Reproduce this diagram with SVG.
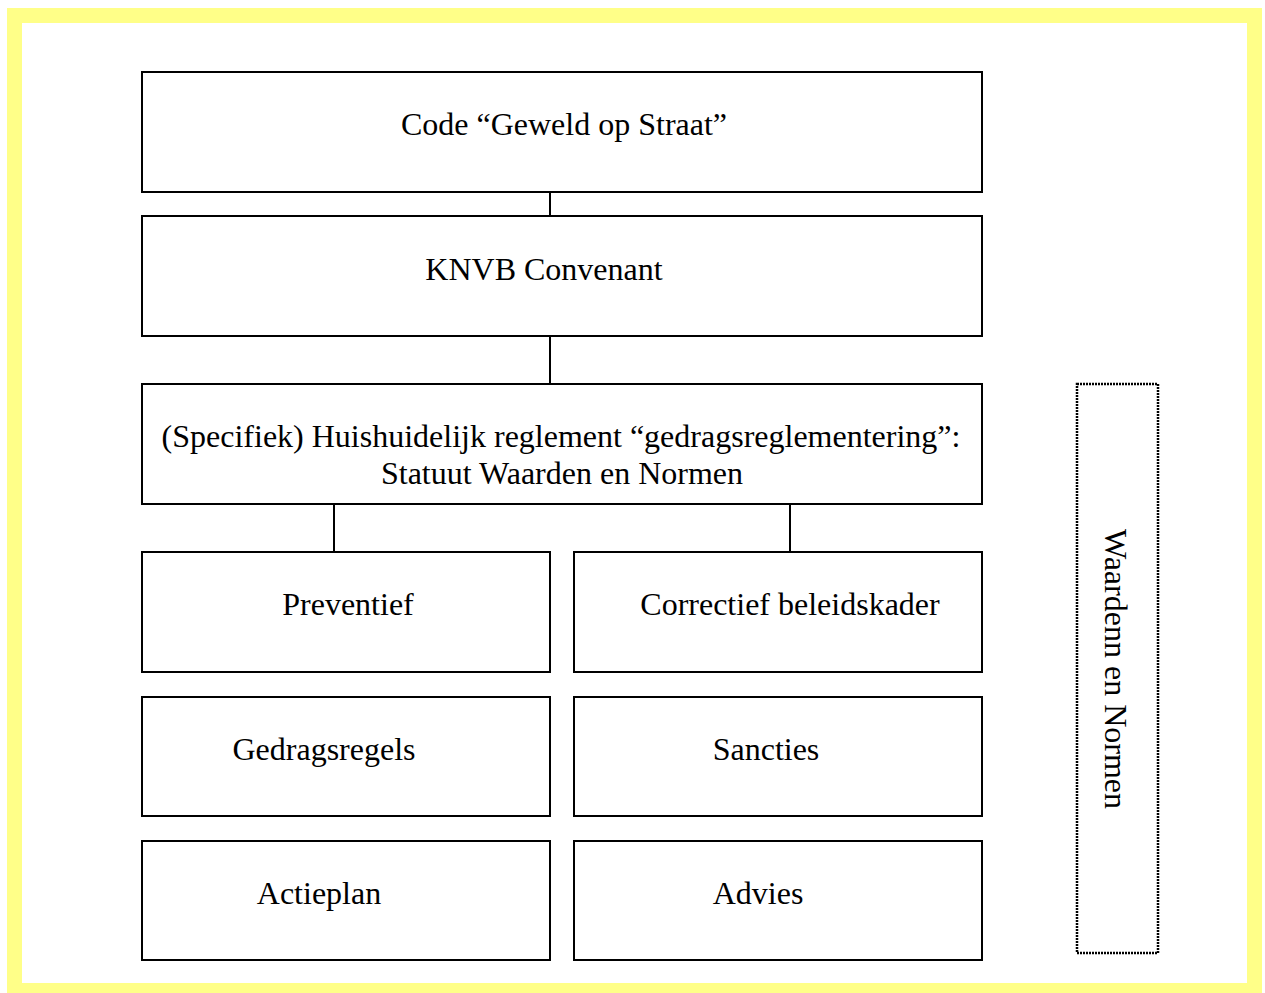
<svg xmlns="http://www.w3.org/2000/svg" width="1265" height="993" viewBox="0 0 1265 993">
<style>
.box{fill:#fff;stroke:#000;stroke-width:2}
.t{font-family:"Liberation Serif","Times New Roman",serif;font-size:32px;fill:#000;text-anchor:middle}
.c{stroke:#000;stroke-width:2;fill:none}
</style>
<rect x="0" y="0" width="1265" height="993" fill="#fff"/>
<rect x="14.5" y="15.5" width="1240" height="975" fill="none" stroke="#ffff88" stroke-width="15"/>
<g id="connectors">
<line class="c" x1="550" y1="192" x2="550" y2="216"/>
<line class="c" x1="550" y1="336" x2="550" y2="384"/>
<line class="c" x1="334" y1="504" x2="334" y2="552"/>
<line class="c" x1="790" y1="504" x2="790" y2="552"/>
</g>
<g id="code"><rect class="box" x="142" y="72" width="840" height="120"/><text class="t" x="564" y="135">Code “Geweld op Straat”</text></g>
<g id="knvb"><rect class="box" x="142" y="216" width="840" height="120"/><text class="t" x="544" y="280">KNVB Convenant</text></g>
<g id="reglement"><rect class="box" x="142" y="384" width="840" height="120"/><text class="t" x="561" y="447">(Specifiek) Huishuidelijk reglement “gedragsreglementering”:</text><text class="t" x="562" y="484">Statuut Waarden en Normen</text></g>
<g id="preventief"><rect class="box" x="142" y="552" width="408" height="120"/><text class="t" x="348" y="615">Preventief</text></g>
<g id="correctief"><rect class="box" x="574" y="552" width="408" height="120"/><text class="t" x="790" y="615">Correctief beleidskader</text></g>
<g id="gedragsregels"><rect class="box" x="142" y="697" width="408" height="119"/><text class="t" x="324" y="760">Gedragsregels</text></g>
<g id="sancties"><rect class="box" x="574" y="697" width="408" height="119"/><text class="t" x="766" y="760">Sancties</text></g>
<g id="actieplan"><rect class="box" x="142" y="841" width="408" height="119"/><text class="t" x="319" y="904">Actieplan</text></g>
<g id="advies"><rect class="box" x="574" y="841" width="408" height="119"/><text class="t" x="758" y="904">Advies</text></g>
<g id="waarden"><rect x="1077" y="384" width="81" height="569" fill="#fff" stroke="#000" stroke-width="2.5" stroke-dasharray="2 1"/><text class="t" transform="translate(1105,669) rotate(90)" x="0" y="0">Waardenn en Normen</text></g>
</svg>
